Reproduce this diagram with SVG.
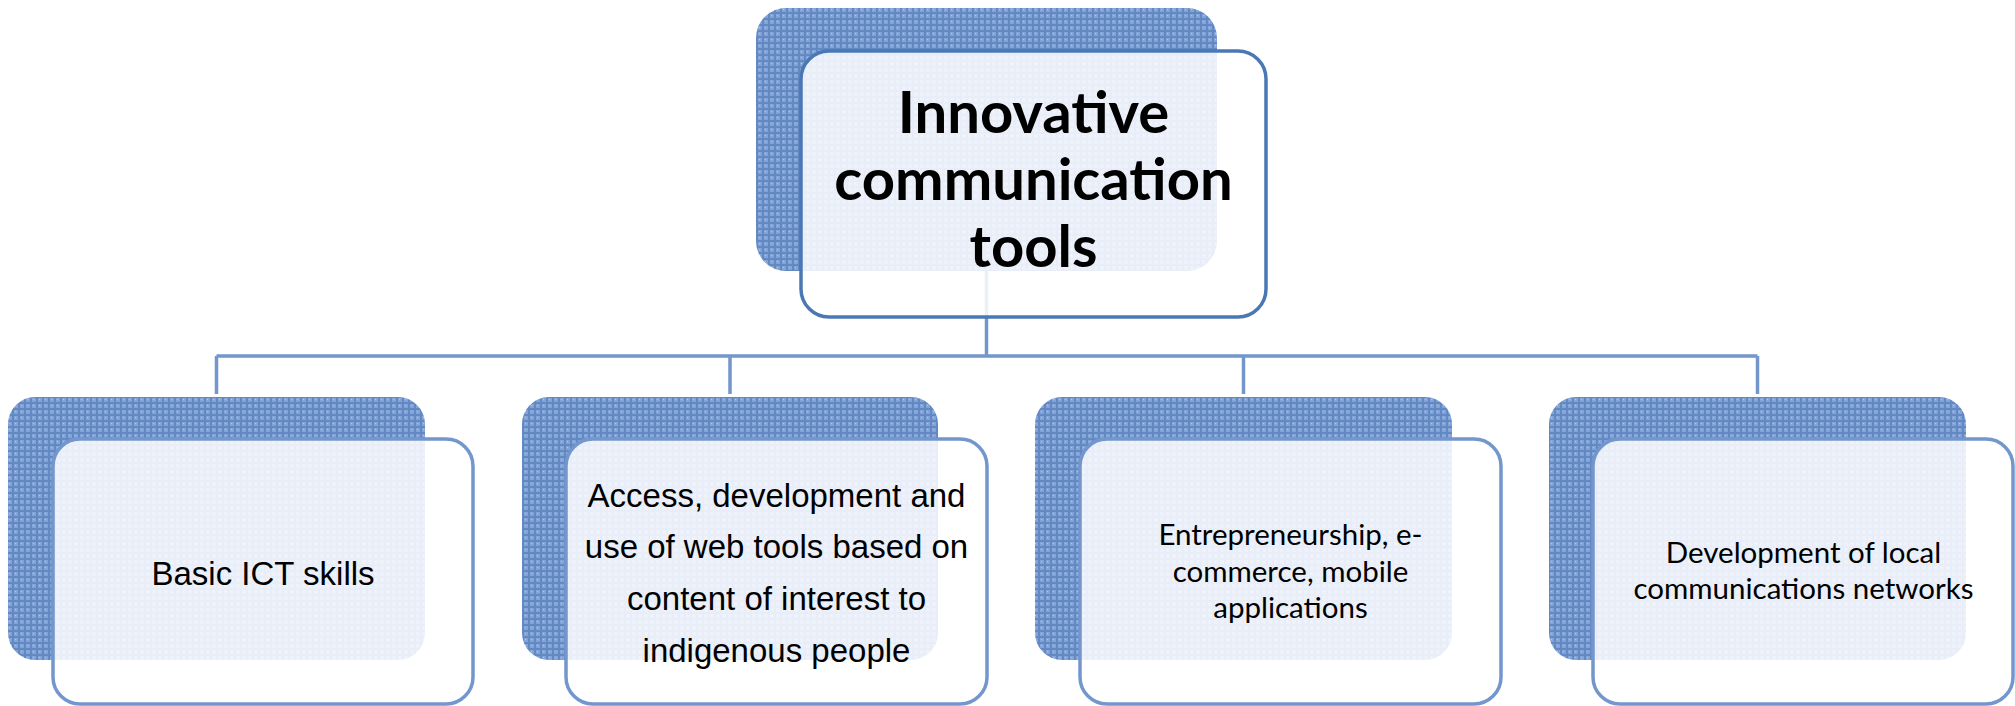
<svg xmlns="http://www.w3.org/2000/svg" width="2015" height="706" viewBox="0 0 2015 706">
<defs>
<pattern id="weave" width="6" height="6" patternUnits="userSpaceOnUse">
<rect width="6" height="6" fill="#84a4d6"/>
<rect x="0" y="0" width="2" height="6" fill="#6389c5"/>
<rect x="0" y="0" width="6" height="2" fill="#6389c5"/>
<rect x="3" y="3" width="1" height="1" fill="#afc5e6"/>
</pattern>
</defs>
<style>
.back{fill:url(#weave);}
.front{fill:#ffffff;fill-opacity:0.85;stroke:#7397cc;stroke-width:3.5;}
.topfront{fill:#ffffff;fill-opacity:0.85;stroke:#4a78b4;stroke-width:3.5;}
.conn{fill:none;stroke:#7397cc;stroke-width:3.5;}
.arial{font-family:"Liberation Sans",Arial,sans-serif;font-size:33px;fill:#000;text-anchor:middle;}
.cal{font-family:Lato,"Noto Sans",sans-serif;font-size:29.5px;fill:#000;text-anchor:middle;}
.title{font-family:Lato,"Noto Sans",sans-serif;font-weight:bold;font-size:58px;fill:#000;text-anchor:middle;}
</style>
<rect width="2015" height="706" fill="#ffffff"/>
<g id="connectors">
<path class="conn" d="M986.5 270 V356 M216.5 356 H1757.5 M216.5 356 V394 M730 356 V394 M1243.5 356 V394 M1757.5 356 V394"/>
</g>
<g id="node-top">
<rect class="back" x="756" y="8" width="461" height="263" rx="30"/>
<rect class="topfront" x="801" y="51" width="465" height="266" rx="28"/>
<text class="title" x="1033.5" y="133">Innovative</text>
<text class="title" x="1033.5" y="200">communication</text>
<text class="title" x="1033.5" y="267">tools</text>
</g>
<g id="node-ict">
<rect class="back" x="8" y="397" width="417" height="263" rx="27"/>
<rect class="front" x="53" y="439" width="420" height="265" rx="27"/>
<text class="arial" x="263" y="585">Basic ICT skills</text>
</g>
<g id="node-web">
<rect class="back" x="522" y="397" width="416" height="263" rx="27"/>
<rect class="front" x="566" y="439" width="421" height="265" rx="27"/>
<text class="arial" x="776.5" y="507">Access, development and</text>
<text class="arial" x="776.5" y="558">use of web tools based on</text>
<text class="arial" x="776.5" y="610">content of interest to</text>
<text class="arial" x="776.5" y="662">indigenous people</text>
</g>
<g id="node-entre">
<rect class="back" x="1035" y="397" width="417" height="263" rx="27"/>
<rect class="front" x="1080" y="439" width="421" height="265" rx="27"/>
<text class="cal" x="1290.5" y="545">Entrepreneurship, e-</text>
<text class="cal" x="1290.5" y="582">commerce, mobile</text>
<text class="cal" x="1290.5" y="618">applications</text>
</g>
<g id="node-net">
<rect class="back" x="1549" y="397" width="417" height="263" rx="27"/>
<rect class="front" x="1593" y="439" width="420" height="265" rx="27"/>
<text class="cal" x="1803.5" y="563">Development of local</text>
<text class="cal" x="1803.5" y="599">communications networks</text>
</g>
</svg>
